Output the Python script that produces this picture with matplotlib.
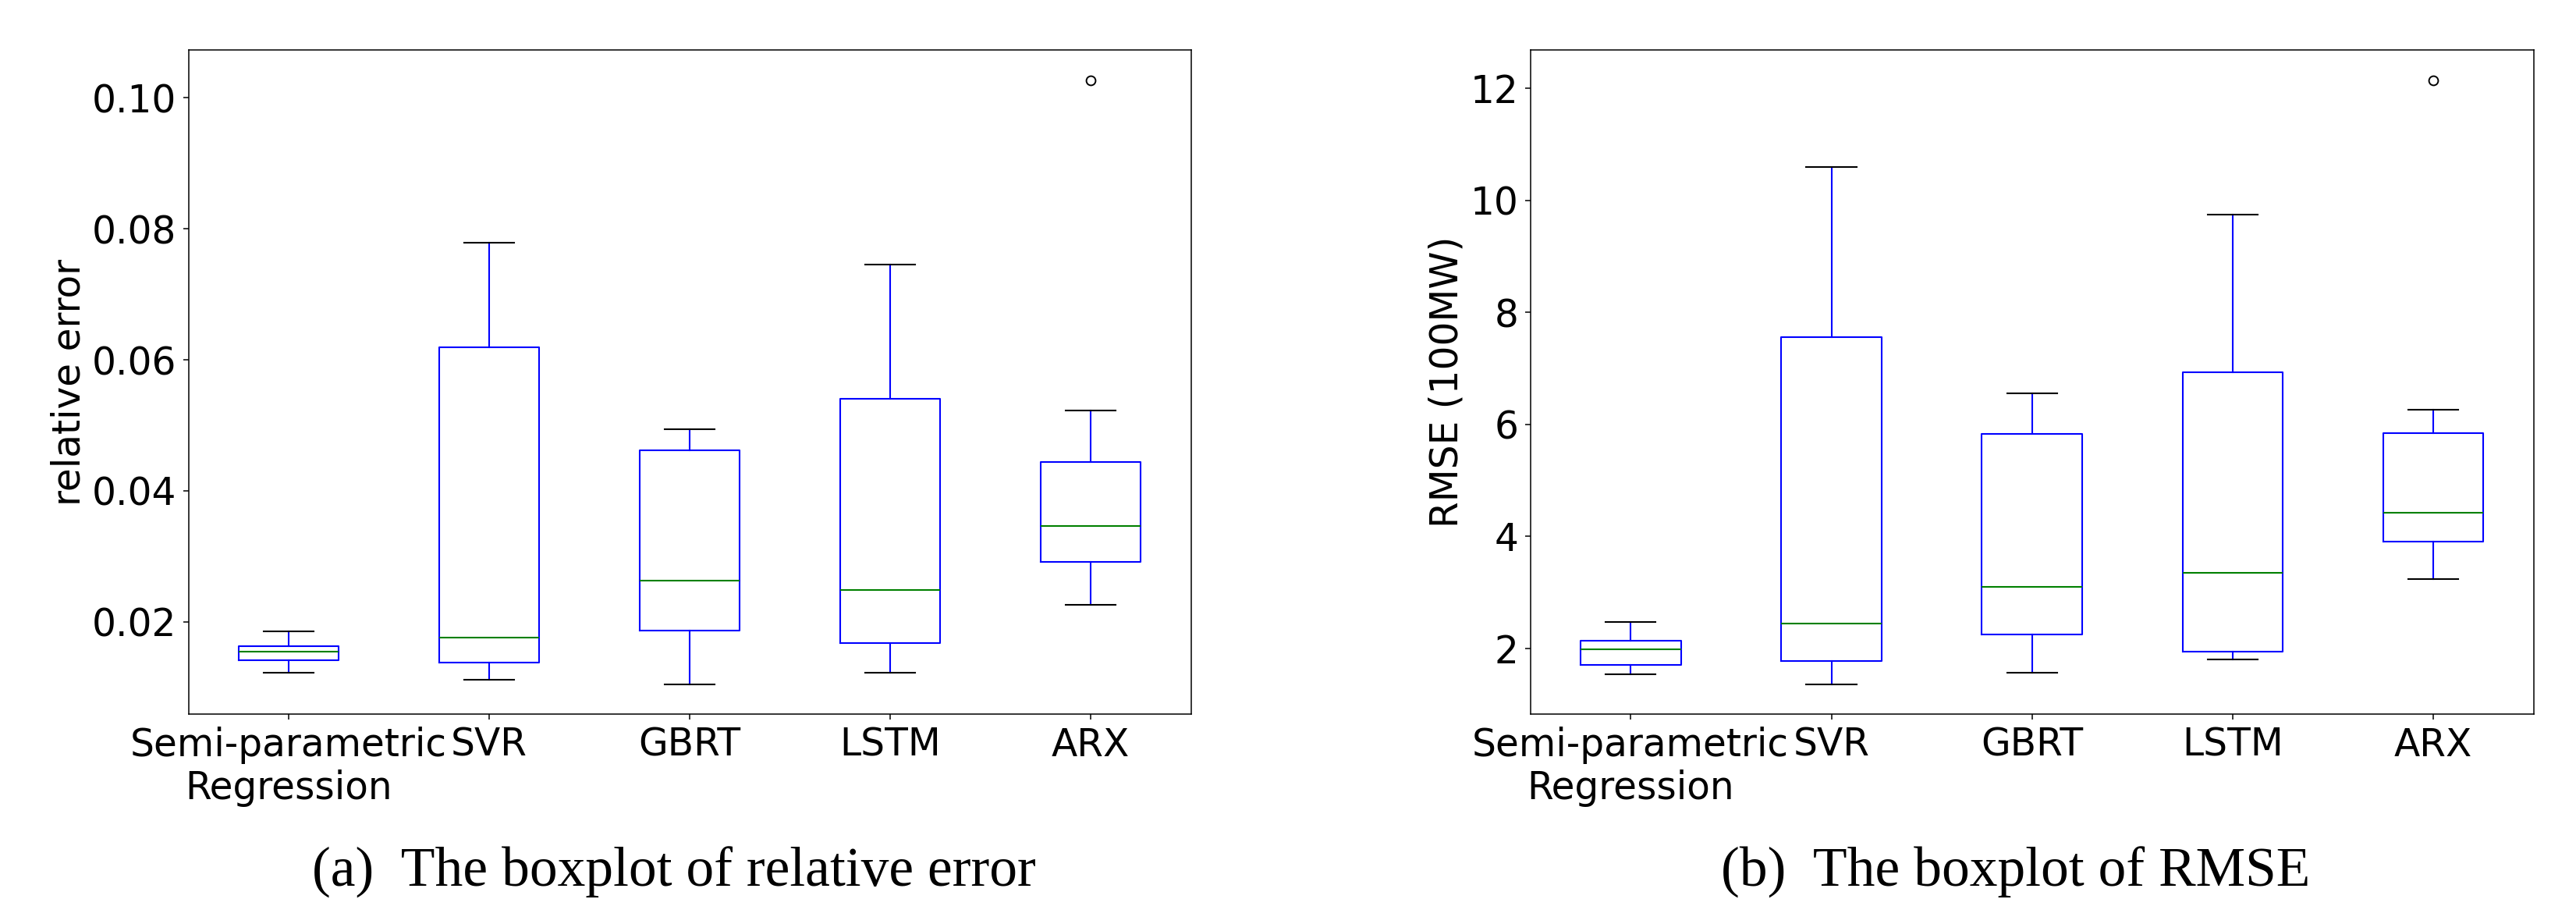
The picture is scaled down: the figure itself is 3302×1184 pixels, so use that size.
import matplotlib
matplotlib.use("Agg")
import matplotlib.pyplot as plt

# model names on the x axis
models = ["Semi-parametric\nRegression", "SVR", "GBRT", "LSTM", "ARX"]

# (a) relative error: box statistics
re_whislo = [0.0122, 0.0112, 0.0105, 0.0122, 0.0226]
re_q1 = [0.0141, 0.0138, 0.0187, 0.0168, 0.0292]
re_med = [0.0155, 0.0176, 0.0263, 0.0249, 0.0346]
re_q3 = [0.0163, 0.0619, 0.0462, 0.0540, 0.0444]
re_whishi = [0.0186, 0.0779, 0.0494, 0.0746, 0.0523]
re_fliers = [[], [], [], [], [0.1027]]

# (b) RMSE (100MW)
rm_whislo = [1.54, 1.36, 1.56, 1.80, 3.24]
rm_q1 = [1.71, 1.77, 2.25, 1.94, 3.91]
rm_med = [1.98, 2.44, 3.10, 3.35, 4.42]
rm_q3 = [2.13, 7.56, 5.83, 6.93, 5.85]
rm_whishi = [2.47, 10.60, 6.55, 9.745, 6.26]
rm_fliers = [[], [], [], [], [12.15]]


def make_stats(lo, q1, med, q3, hi, fl):
    stats = []
    for i in range(len(med)):
        stats.append({"whislo": lo[i], "q1": q1[i], "med": med[i],
                      "q3": q3[i], "whishi": hi[i], "fliers": fl[i]})
    return stats


def draw_box(ax, stats, ylabel):
    lw = 1.5
    ax.bxp(stats, widths=0.5,
           boxprops=dict(color="b", linewidth=lw),
           whiskerprops=dict(color="b", linewidth=lw),
           medianprops=dict(color="g", linewidth=lw),
           capprops=dict(color="k", linewidth=lw),
           flierprops=dict(marker="o", markerfacecolor="none",
                           markeredgecolor="k", markersize=8.5,
                           markeredgewidth=1.4))
    ax.set_xticks(range(1, len(models) + 1))
    ax.set_xticklabels(models)
    ax.set_ylabel(ylabel, fontsize=35)
    ax.tick_params(labelsize=35, length=5, width=1.1, pad=6)
    for sp in ax.spines.values():
        sp.set_linewidth(1.1)


fig = plt.figure(figsize=(33.02, 11.84), dpi=100)
ax1 = fig.add_axes([241.7 / 3302, 1 - 915.3 / 1184, 1285 / 3302, 851.3 / 1184])
ax2 = fig.add_axes([1961.7 / 3302, 1 - 915.3 / 1184, 1286 / 3302, 851.3 / 1184])

draw_box(ax1, make_stats(re_whislo, re_q1, re_med, re_q3, re_whishi, re_fliers),
         "relative error")
ax1.set_yticks([0.02, 0.04, 0.06, 0.08, 0.10])
ax1.set_yticklabels(["0.02", "0.04", "0.06", "0.08", "0.10"])

draw_box(ax2, make_stats(rm_whislo, rm_q1, rm_med, rm_q3, rm_whishi, rm_fliers),
         "RMSE (100MW)")
ax2.set_yticks([2, 4, 6, 8, 10, 12])

cap_font = ["Liberation Serif", "DejaVu Serif"]
fig.text(864 / 3302, 48 / 1184, "(a)  The boxplot of relative error",
         ha="center", va="baseline", fontsize=51.5, family=cap_font)
fig.text(2584 / 3302, 48 / 1184, "(b)  The boxplot of RMSE",
         ha="center", va="baseline", fontsize=51.5, family=cap_font)

fig.savefig("out.png", dpi=100)
